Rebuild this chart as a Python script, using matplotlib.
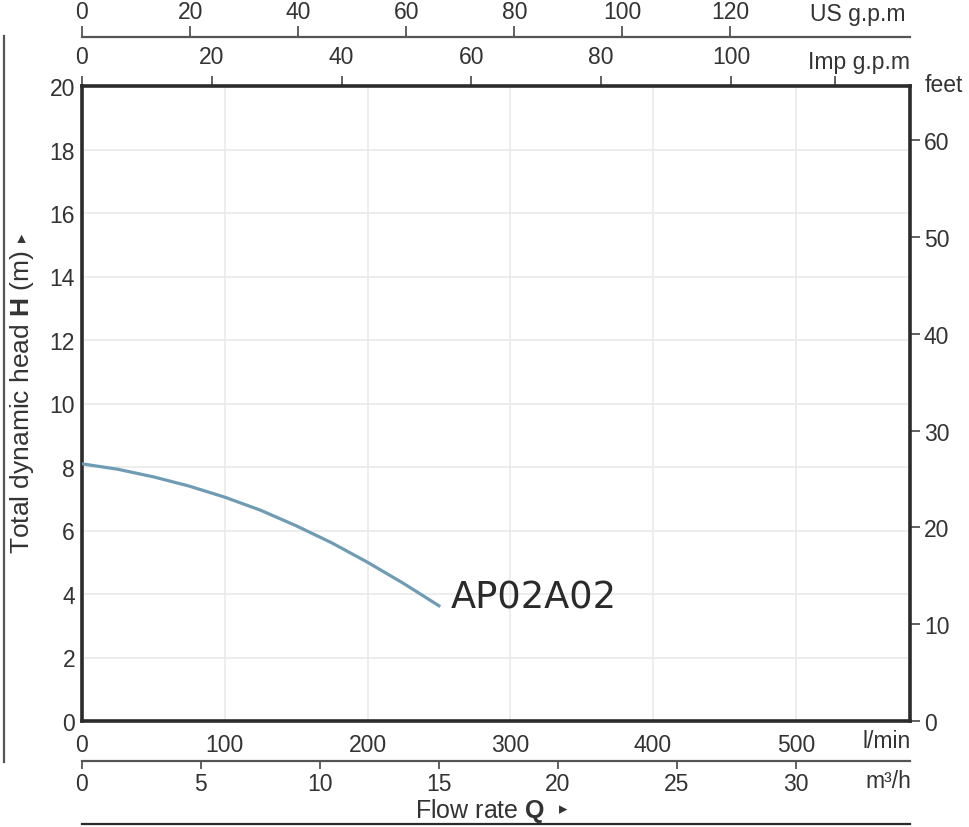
import matplotlib
matplotlib.use('Agg')
import matplotlib.pyplot as plt
from matplotlib.lines import Line2D

'''
AP02A02 pump curve: flow rate vs total dynamic head
'''

plt.rcParams['font.family'] = ['Liberation Sans', 'DejaVu Sans']
plt.rcParams['mathtext.fontset'] = 'custom'
plt.rcParams['mathtext.bf'] = 'Liberation Sans:bold'
plt.rcParams['mathtext.rm'] = 'Liberation Sans'

# --- data ---
flow_lpm = [0, 25, 50, 75, 100, 125, 150, 175, 200, 225, 250]
head_m = [8.1, 7.93, 7.69, 7.4, 7.05, 6.64, 6.15, 5.61, 5.0, 4.34, 3.63]
model_name = 'AP02A02'

lpm_ticks = [0, 100, 200, 300, 400, 500]
m3h_ticks = [0, 5, 10, 15, 20, 25, 30]
imp_ticks = [0, 20, 40, 60, 80, 100, 116]
imp_labels = ['0', '20', '40', '60', '80', '100', '']
us_ticks = [0, 20, 40, 60, 80, 100, 120]
head_ticks = [0, 2, 4, 6, 8, 10, 12, 14, 16, 18, 20]
feet_ticks = [0, 10, 20, 30, 40, 50, 60]

x_max = 580
y_max = 20

txt = '#333333'
frame = '#2b2b2b'
thin = '#555555'
fs = 16.5

fig = plt.figure(figsize=(9.69, 8.28), dpi=100)
W, H = 969, 828
l, r, t, b = 82, 910, 87, 722
ax = fig.add_axes([l / W, 1 - b / H, (r - l) / W, (b - t) / H])

ax.plot(flow_lpm, head_m, color='#6f9bb3', linewidth=2.3, solid_joinstyle='round', zorder=3)
ax.text(flow_lpm[-1] + 8, head_m[-1] - 0.05, model_name, fontsize=26.5,
        family='DejaVu Sans', color='#2a2a2a', va='baseline', ha='left')

ax.set_xlim(0, x_max)
ax.set_ylim(0, y_max)
ax.set_xticks(lpm_ticks)
ax.set_yticks(head_ticks)
ax.grid(True, color='#e8e8e8', linewidth=1.1)
ax.set_axisbelow(True)
for s in ax.spines.values():
    s.set_linewidth(2.6)
    s.set_color(frame)
ax.tick_params(axis='x', length=0, pad=9, labelsize=fs, labelcolor=txt)
ax.tick_params(axis='y', length=0, pad=5, labelsize=fs, labelcolor=txt)

# Imp g.p.m on the top spine
imp = ax.secondary_xaxis('top', functions=(lambda q: q / 4.54609, lambda g: g * 4.54609))
imp.set_xticks(imp_ticks, imp_labels)
imp.spines['top'].set_visible(False)
imp.tick_params(direction='out', length=7, width=1.3, color=thin, pad=6,
                labelsize=fs, labelcolor=txt)

# US g.p.m on its own line above
us_pos = (b - 38) / (b - t)
us = ax.secondary_xaxis(us_pos, functions=(lambda q: q / 3.78541, lambda g: g * 3.78541))
us.set_xticks(us_ticks)
us.spines['top'].set_linewidth(1.6)
us.spines['top'].set_color(thin)
us.tick_params(direction='out', length=8, width=1.3, color=thin, pad=2,
               labelsize=fs, labelcolor=txt)

# m3/h on a line below
m3_pos = (b - 762) / (b - t)
m3 = ax.secondary_xaxis(m3_pos, functions=(lambda q: q * 0.06, lambda v: v / 0.06))
m3.set_xticks(m3h_ticks)
m3.spines['bottom'].set_linewidth(1.6)
m3.spines['bottom'].set_color(thin)
m3.tick_params(direction='out', length=6, width=1.3, color=thin, pad=2,
               labelsize=fs, labelcolor=txt)

# feet on the right spine
ft = ax.secondary_yaxis('right', functions=(lambda m: m * 3.28084, lambda f: f / 3.28084))
ft.set_yticks(feet_ticks)
ft.spines['right'].set_visible(False)
ft.tick_params(direction='out', length=7, width=1.3, color=thin, pad=3,
               labelsize=fs, labelcolor=txt)

# unit labels
fig.text(906 / W, 1 - 15 / H, 'US g.p.m', ha='right', va='center', fontsize=fs, color=txt)
fig.text(910 / W, 1 - 62 / H, 'Imp g.p.m', ha='right', va='center', fontsize=fs, color=txt)
fig.text(925 / W, 1 - 85 / H, 'feet', ha='left', va='center', fontsize=fs, color=txt)
fig.text(911 / W, 1 - 742 / H, 'l/min', ha='right', va='center', fontsize=fs, color=txt)
fig.text(911 / W, 1 - 782 / H, 'm³/h', ha='right', va='center', fontsize=fs, color=txt)

# axis titles, arrow glyph drawn in DejaVu Sans
xt = fig.text(480 / W, 1 - 818 / H, r'Flow rate $\mathbf{Q}$', ha='center', va='baseline',
              fontsize=18, color=txt)
fig.add_artist(plt.Annotation('▸', xy=(1, 0.55), xycoords=xt, xytext=(10, 0),
                              textcoords='offset points', ha='left', va='center',
                              fontsize=12, family='DejaVu Sans', color=txt))
yt = fig.text(22 / W, 1 - 402 / H, r'Total dynamic head $\mathbf{H}$ (m)', ha='center',
              va='center', rotation=90, fontsize=19, color=txt)
fig.add_artist(plt.Annotation('▸', xy=(0.5, 1), xycoords=yt, xytext=(0, 6),
                              textcoords='offset points', ha='center', va='bottom',
                              rotation=90, fontsize=12, family='DejaVu Sans', color=txt))

# frame lines outside the axes
fig.add_artist(Line2D([l / W, r / W], [1 - 825 / H, 1 - 825 / H], color=frame, linewidth=1.6))
fig.add_artist(Line2D([4 / W, 4 / W], [1 - 37 / H, 1 - 763 / H], color=thin, linewidth=1.6))

fig.savefig('out.png', dpi=100)
